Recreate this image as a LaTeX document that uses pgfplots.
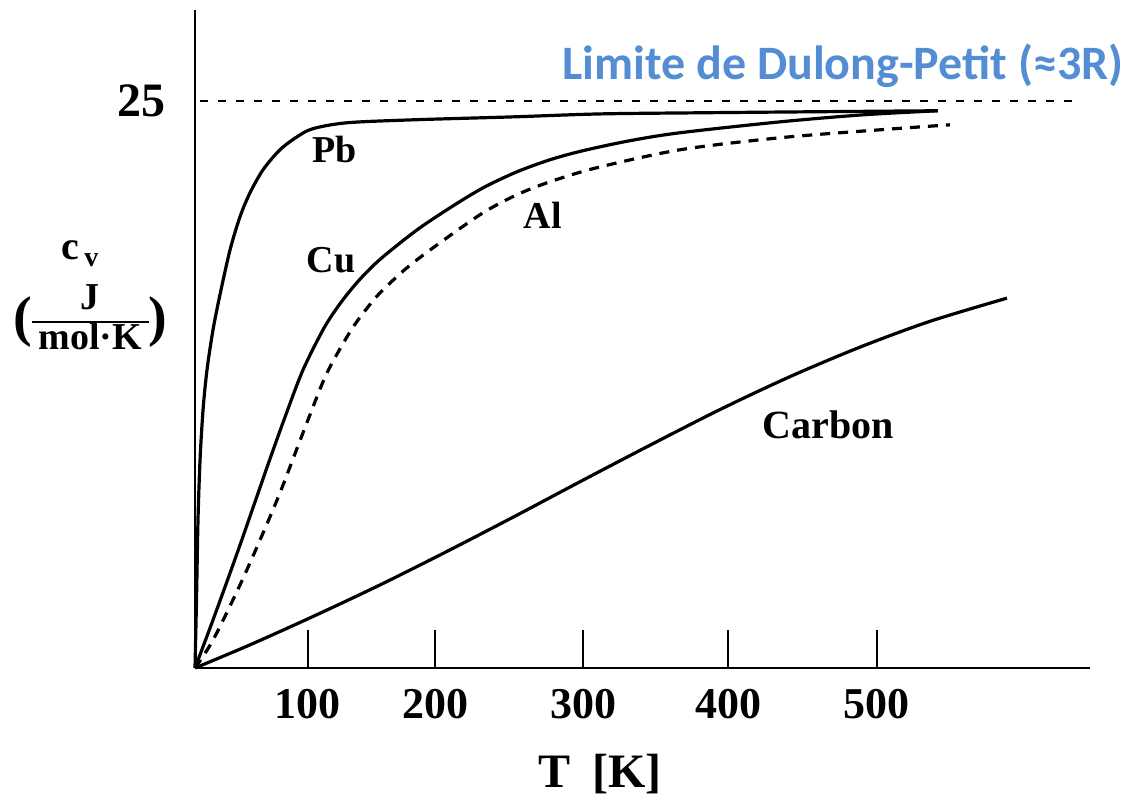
\documentclass[border=0pt]{standalone}
\usepackage{fontspec}
\setmainfont{Liberation Serif}
\newfontfamily\titlefont{Carlito}
\usepackage{pgfplots}
\pgfplotsset{compat=1.18}
\definecolor{dpblue}{RGB}{84,141,212}

\begin{document}
\begin{tikzpicture}
\path[use as bounding box] (0,0) rectangle (574pt,399.5pt);
\begin{axis}[
  at={(97.5pt,65.5pt)}, anchor=south west,
  scale only axis, width=447.5pt, height=329pt,
  xmin=0, xmax=656.2, ymin=0, ymax=29.0,
  axis x line=bottom, axis y line=left,
  axis line style={-, line width=1.4pt},
  xtick={82.8,176.0,284.5,390.8,500},
  xticklabels={100,200,300,400,500},
  ytick={25}, yticklabels={25},
  tick align=inside,
  major tick length=19pt,
  xtick style={line width=1.1pt, black},
  ytick style={draw=none},
  xticklabel style={font=\fontsize{22}{24}\selectfont\bfseries, yshift=-7pt},
  yticklabel style={font=\fontsize{24}{26}\selectfont\bfseries, xshift=-11pt},
  clip=false,
]
% Dulong-Petit limit
\addplot[black, line width=0.9pt, dash pattern=on 4pt off 5pt] coordinates {(3.7,25) (645,25)};
% Pb
\addplot[black, line width=1.6pt, smooth, tension=0.5] coordinates {
(0,0) (1.1,3.00) (2.2,6.53) (3.7,9.17) (5.9,11.38) (8.8,13.14) (13.2,14.90)
(18.3,16.45) (25.7,18.43) (33.0,19.89) (40.3,20.94) (49.9,21.96) (62.3,22.84)
(74.8,23.41) (86.5,23.77) (111.4,24.03) (159.8,24.16) (233.1,24.29) (296.9,24.42)
(370.2,24.47) (443.5,24.51) (544.7,24.56)};
% Cu
\addplot[black, line width=1.6pt, smooth, tension=0.5] coordinates {
(0,0) (11.0,1.76) (22.0,3.57) (33.0,5.42) (44.0,7.32) (55.0,9.22) (67.4,11.29)
(79.2,13.14) (93.8,14.90) (104.1,15.87) (113.6,16.62) (124.6,17.37) (137.8,18.12)
(162.8,19.31) (186.9,20.28) (211.1,21.16) (236.1,21.87) (260.3,22.40) (284.5,22.80)
(318.9,23.24) (355.6,23.59) (428.9,24.07) (489.7,24.38) (544.7,24.56)};
% Al
\addplot[black, line width=1.6pt, dash pattern=on 5pt off 4pt, smooth, tension=0.5] coordinates {
(0,0) (13.2,1.23) (33.0,3.66) (49.9,5.95) (62.3,7.72) (73.3,9.44) (84.3,11.16)
(96.8,13.01) (113.6,14.81) (124.6,15.74) (135.6,16.53) (155.4,17.64) (179.6,18.74)
(211.1,20.06) (236.1,20.86) (260.3,21.43) (294.7,22.05) (355.6,22.84) (428.9,23.37)
(502.2,23.72) (553.5,23.94)};
% Carbon
\addplot[black, line width=1.6pt, smooth, tension=0.5] coordinates {
(0,0) (40.3,1.02) (86.5,2.27) (135.6,3.66) (184.8,5.14) (234.6,6.69) (282.3,8.21)
(333.6,9.82) (384.9,11.39) (436.2,12.84) (487.5,14.14) (538.9,15.28) (595.3,16.30)};
\node[font=\fontsize{19}{21}\selectfont\bfseries] at (axis cs:102.6,22.84) {Pb};
\node[font=\fontsize{19}{21}\selectfont\bfseries] at (axis cs:99.7,17.99) {Cu};
\node[font=\fontsize{19}{21}\selectfont\bfseries] at (axis cs:255.1,19.97) {Al};
\node[font=\fontsize{20}{22}\selectfont\bfseries] at (axis cs:464.1,10.71) {Carbon};
\end{axis}
\node[anchor=base west, font=\titlefont\fontsize{24}{27}\selectfont\bfseries, text=dpblue, inner sep=0pt] at (281pt,359.5pt) {Limite de Dulong-Petit (≈3R)};
\node[anchor=base, font=\fontsize{24}{26}\selectfont\bfseries, inner sep=0pt] at (300pt,5.5pt) {T\hspace{0.45em}[K]};
\node[anchor=base, font=\fontsize{20}{22}\selectfont\bfseries, inner sep=0pt] at (40pt,269.5pt) {c\hspace{2.5pt}\raisebox{-3.5pt}{\fontsize{14}{16}\selectfont\bfseries v}};
\node[anchor=center, inner sep=0pt, font=\bfseries] at (45.25pt,238.5pt) {\setlength\arrayrulewidth{1pt}\renewcommand\arraystretch{0.9}\fontsize{28}{30}\selectfont(\raisebox{2.4pt}{\fontsize{19}{21}\selectfont$\vcenter{\hbox{\begin{tabular}{@{\,}c@{\,}}J\\\hline mol·K\end{tabular}}}$}\fontsize{28}{30}\selectfont)};
\end{tikzpicture}
\end{document}
